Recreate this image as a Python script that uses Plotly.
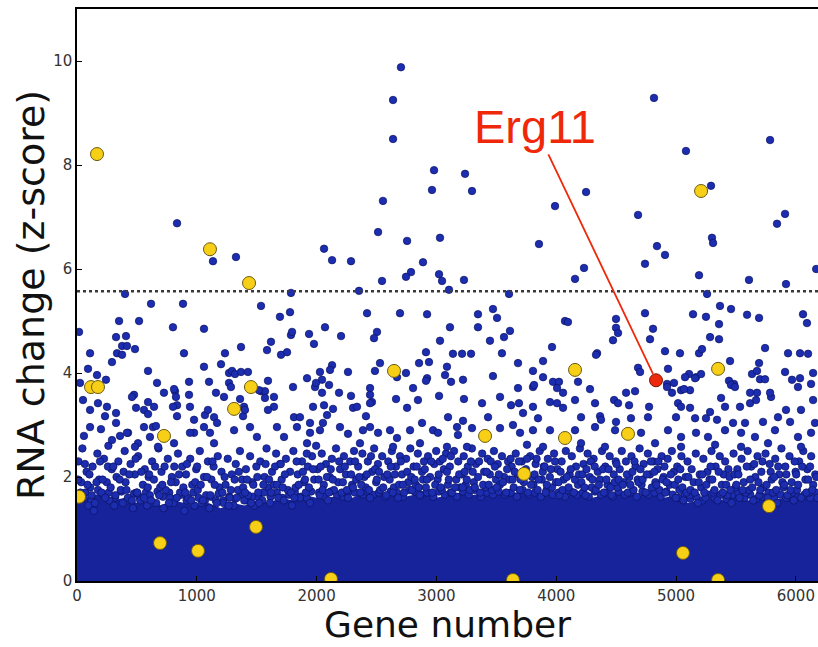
import plotly.graph_objects as go

# ---- data -------------------------------------------------------------
# upper edge of the saturated point cloud (genes every 100, z-score)
cloud_gene = list(range(0, 6300, 100))
cloud_top = [1.65, 1.6, 1.7, 1.55, 1.6, 1.5, 1.55, 1.45, 1.55, 1.5, 1.45, 1.5, 1.4, 1.5, 1.45, 1.55,
             1.5, 1.6, 1.55, 1.65, 1.6, 1.6, 1.65, 1.6, 1.7, 1.65, 1.7, 1.6, 1.65, 1.7, 1.6, 1.65,
             1.7, 1.65, 1.7, 1.65, 1.7, 1.7, 1.65, 1.7, 1.6, 1.65, 1.7, 1.6, 1.65, 1.7, 1.7, 1.65,
             1.7, 1.6, 1.65, 1.5, 1.55, 1.6, 1.55, 1.65, 1.55, 1.6, 1.55, 1.6, 1.65, 1.6, 1.55]

# genes sitting on the rim of the saturated cloud (gene, z)
rim_genes = [
    (20,1.6),(70,1.7),(120,1.55),(175,1.75),(220,1.65),(265,1.7),(318,1.6),(372,1.72),(420,1.55),(475,1.68),(520,1.62),(575,1.7),
    (620,1.5),(672,1.72),(717,1.62),(770,1.7),(818,1.58),(870,1.66),(915,1.55),(970,1.7),(1015,1.6),(1068,1.55),(1118,1.62),(1182,1.68),
    (1220,1.55),(1270,1.62),(1320,1.58),(1370,1.66),(1418,1.55),(1468,1.62),(1517,1.6),(1560,1.7),(1616,1.62),(1668,1.7),(1713,1.6),(1770,1.66),
    (1818,1.7),(1868,1.62),(1918,1.6),(1955,1.72),(2020,1.7),(2068,1.62),(2118,1.72),(2170,1.66),(2222,1.62),(2270,1.72),(2320,1.7),(2388,1.66),
    (2422,1.72),(2472,1.66),(2520,1.7),(2572,1.62),(2618,1.72),(2670,1.7),(2720,1.62),(2772,1.75),(2818,1.72),(2870,1.66),(2920,1.7),(2975,1.62),
    (3020,1.72),(3070,1.66),(3120,1.7),(3172,1.62),(3222,1.72),(3270,1.66),(3320,1.75),(3372,1.62),(3422,1.7),(3472,1.66),(3520,1.72),(3572,1.66),
    (3620,1.7),(3672,1.62),(3720,1.75),(3772,1.66),(3822,1.7),(3872,1.62),(3920,1.75),(3972,1.66),(4020,1.7),(4072,1.62),(4120,1.72),(4172,1.66),
    (4222,1.7),(4272,1.62),(4322,1.72),(4372,1.66),(4420,1.7),(4472,1.62),(4520,1.72),(4572,1.66),(4620,1.7),(4672,1.62),(4720,1.72),(4772,1.66),
    (4820,1.7),(4872,1.62),(4920,1.72),(4972,1.66),(5020,1.6),(5072,1.66),(5120,1.58),(5172,1.62),(5222,1.55),(5272,1.66),(5320,1.6),(5372,1.66),
    (5420,1.58),(5472,1.66),(5520,1.7),(5572,1.6),(5620,1.66),(5672,1.58),(5720,1.62),(5772,1.7),(5820,1.6),(5872,1.66),(5920,1.6),(5972,1.7),
    (6020,1.62),(6072,1.66),(6120,1.6),(6170,1.7),
]

# genes in the dense zone above the saturated cloud
dense_genes = [
    (12,2.3),(35,1.9),(58,1.6),(80,2.1),(95,1.45),(45,2.55),(110,1.8),(130,2.2),(150,1.5),(170,2.45),(185,1.95),(140,1.35),
    (205,1.7),(225,2.35),(248,1.9),(270,1.55),(290,2.15),(262,2.6),(310,1.45),(330,2.0),(345,2.3),(365,1.75),(382,1.5),(398,2.5),
    (405,1.9),(425,1.6),(447,2.25),(468,1.4),(483,2.05),(496,1.7),(510,2.4),(528,1.55),(550,1.85),(566,2.15),(585,1.45),(598,2.0),
    (608,1.65),(627,2.3),(642,1.95),(661,1.5),(680,2.55),(694,1.8),(705,2.1),(722,1.4),(740,1.75),(758,2.35),(776,1.6),(792,2.0),
    (805,1.5),(824,1.9),(843,2.45),(860,1.7),(878,2.2),(897,1.35),(910,2.05),(926,1.6),(945,2.35),(962,1.85),(980,1.45),(995,2.15),
    (1008,1.75),(1025,2.5),(1042,1.5),(1060,2.0),(1078,1.65),(1093,2.3),(1105,1.4),(1122,1.95),(1140,2.2),(1158,1.55),(1175,2.4),(1190,1.8),
    (1206,2.1),(1224,1.5),(1240,1.85),(1258,2.35),(1275,1.6),(1292,2.05),(1307,1.45),(1325,2.25),(1343,1.75),(1360,2.5),(1378,1.95),(1396,1.55),
    (1410,2.15),(1428,1.65),(1445,2.4),(1463,1.9),(1480,1.45),(1497,2.2),(1512,1.7),(1530,2.3),(1547,1.55),(1565,2.0),(1582,2.55),(1598,1.8),
    (1611,1.5),(1628,2.1),(1645,1.85),(1662,2.45),(1680,1.6),(1695,2.25),(1708,1.95),(1726,1.55),(1744,2.35),(1760,1.75),(1778,2.1),(1794,1.45),
    (1806,2.5),(1825,1.8),(1842,2.05),(1860,1.6),(1878,2.3),(1895,1.9),(1910,1.7),(1927,2.2),(1945,1.5),(1962,2.4),(1980,1.95),(1996,2.6),
    (2008,2.15),(2026,1.65),(2043,2.45),(2060,1.85),(2078,2.25),(2094,1.55),(2110,2.0),(2127,2.35),(2145,1.75),(2162,2.55),(2180,1.9),(2196,2.15),
    (2210,1.7),(2228,2.4),(2245,2.05),(2262,1.6),(2280,2.3),(2296,1.85),(2312,2.5),(2330,1.95),(2347,2.2),(2365,1.7),(2382,2.45),(2398,2.0),
    (2410,1.8),(2428,2.3),(2446,1.6),(2463,2.1),(2480,2.55),(2497,1.9),(2512,2.25),(2530,1.75),(2547,2.4),(2565,2.0),(2582,1.65),(2598,2.3),
    (2610,1.95),(2628,2.5),(2645,1.8),(2662,2.2),(2680,1.6),(2696,2.4),(2712,2.05),(2730,1.7),(2747,2.35),(2765,1.9),(2782,2.55),(2798,1.75),
    (2810,2.2),(2828,1.85),(2845,2.45),(2862,1.65),(2880,2.1),(2896,2.3),(2912,1.8),(2930,2.4),(2947,2.0),(2965,1.7),(2982,2.25),(2998,2.5),
    (3010,1.95),(3028,2.3),(3045,1.75),(3062,2.15),(3080,2.45),(3096,1.85),(3112,2.2),(3130,1.7),(3147,2.5),(3165,1.95),(3182,2.3),(3198,1.8),
    (3210,2.05),(3228,2.4),(3245,1.85),(3262,2.2),(3280,1.75),(3296,2.55),(3312,1.9),(3330,2.25),(3347,2.0),(3365,1.7),(3382,2.45),(3398,2.1),
    (3410,1.8),(3428,2.35),(3446,2.05),(3463,1.75),(3480,2.5),(3497,1.95),(3512,2.25),(3530,1.85),(3547,2.4),(3565,2.0),(3582,1.7),(3598,2.3),
    (3610,1.95),(3628,2.2),(3645,1.8),(3662,2.45),(3680,2.05),(3696,1.75),(3712,2.3),(3730,1.9),(3747,2.15),(3765,1.7),(3782,2.4),(3798,2.0),
    (3810,1.85),(3828,2.25),(3845,1.75),(3862,2.5),(3880,1.95),(3896,2.2),(3912,1.7),(3930,2.35),(3947,2.0),(3965,1.8),(3982,2.45),(3998,1.9),
    (4010,2.15),(4028,1.65),(4045,2.3),(4062,1.95),(4080,2.5),(4096,1.75),(4112,2.05),(4130,2.4),(4147,1.7),(4165,2.2),(4182,1.85),(4198,2.55),
    (4210,1.9),(4228,2.25),(4245,1.65),(4262,2.45),(4280,2.0),(4296,1.8),(4312,2.35),(4330,1.75),(4347,2.1),(4365,1.95),(4382,2.5),(4398,1.7),
    (4410,2.2),(4428,1.85),(4446,2.4),(4463,1.65),(4480,2.05),(4497,2.3),(4512,1.8),(4530,2.15),(4547,2.5),(4565,1.9),(4582,2.3),(4598,1.7),
    (4610,2.0),(4628,2.4),(4645,1.75),(4662,2.2),(4680,1.95),(4696,2.55),(4712,1.85),(4730,2.25),(4747,1.7),(4765,2.45),(4782,2.05),(4798,1.8),
    (4810,2.3),(4828,1.9),(4845,2.15),(4862,1.75),(4880,2.4),(4896,2.0),(4912,1.7),(4930,2.35),(4947,1.85),(4965,2.5),(4982,2.1),(4998,1.6),
    (5010,2.2),(5028,1.75),(5045,2.4),(5062,1.55),(5080,2.0),(5096,2.3),(5112,1.65),(5130,2.15),(5147,1.9),(5165,2.45),(5182,1.5),(5198,2.05),
    (5210,1.8),(5228,2.35),(5245,1.6),(5262,2.1),(5280,1.95),(5296,2.5),(5312,1.7),(5330,2.2),(5347,1.55),(5365,2.4),(5382,1.85),(5398,2.05),
    (5410,2.3),(5428,1.65),(5446,2.0),(5463,1.5),(5480,2.45),(5497,1.8),(5512,2.15),(5530,1.6),(5547,2.35),(5565,1.9),(5582,1.7),(5598,2.5),
    (5610,1.75),(5628,2.2),(5645,1.55),(5662,2.0),(5680,2.4),(5696,1.65),(5712,2.1),(5730,1.8),(5747,2.45),(5765,1.6),(5782,2.25),(5798,1.95),
    (5810,1.7),(5828,2.35),(5845,1.5),(5862,2.05),(5880,2.55),(5896,1.8),(5912,2.2),(5930,1.65),(5947,2.4),(5965,1.9),(5982,1.55),(5998,2.1),
    (6010,1.75),(6028,2.3),(6045,1.6),(6062,2.5),(6080,1.95),(6096,2.15),(6110,1.7),(6128,2.4),(6145,1.85),(6162,2.05),(6180,1.6),
]

# further genes packed just above the saturated cloud
packed_genes = [
    (8,1.95),(28,1.7),(66,2.25),(88,1.85),(104,2.05),(122,1.65),(163,1.9),(192,2.3),(214,1.95),(236,1.6),(258,2.2),(281,1.8),
    (303,2.2),(321,1.65),(356,1.95),(389,2.1),(413,1.75),(436,2.05),(458,1.55),(489,2.35),(503,1.7),(537,2.1),(559,1.6),(591,1.8),
    (602,2.05),(618,1.55),(652,2.2),(686,1.65),(712,1.85),(731,2.2),(767,1.5),(785,1.9),(812,2.2),(833,1.6),(852,2.05),(888,1.8),
    (903,1.7),(918,2.25),(953,1.55),(987,1.9),(1003,2.2),(1033,1.85),(1051,1.55),(1085,2.0),(1113,1.65),(1131,2.3),(1149,1.85),(1167,1.5),
    (1213,1.7),(1232,2.0),(1266,1.45),(1284,1.75),(1316,1.95),(1334,1.6),(1351,2.1),(1387,1.8),(1402,1.7),(1419,1.95),(1454,1.5),(1472,1.85),
    (1505,2.0),(1521,1.5),(1556,1.85),(1574,2.25),(1603,1.95),(1620,1.7),(1653,2.2),(1671,1.85),(1701,2.25),(1717,1.8),(1735,2.05),(1786,1.7),
    (1815,1.6),(1833,2.3),(1851,1.85),(1886,2.1),(1903,1.95),(1918,2.45),(1936,1.8),(1971,2.15),(2017,1.95),(2034,2.2),(2051,1.75),(2086,2.0),
    (2102,1.7),(2118,2.15),(2136,1.95),(2188,2.3),(2219,1.9),(2236,2.2),(2253,1.75),(2288,2.05),(2304,1.8),(2321,2.3),(2356,2.0),(2373,1.85),
    (2419,2.05),(2437,1.75),(2454,2.4),(2488,2.15),(2503,1.95),(2521,2.1),(2556,1.8),(2590,2.05),(2619,2.2),(2636,1.7),(2653,2.05),(2688,1.85),
    (2703,2.3),(2721,1.85),(2756,2.1),(2790,2.0),(2819,1.95),(2836,2.2),(2853,1.8),(2888,1.95),(2903,2.15),(2921,1.95),(2956,2.3),(2990,1.85),
    (3019,2.05),(3036,1.8),(3053,2.35),(3088,2.1),(3103,1.95),(3121,2.4),(3156,1.8),(3190,2.05),(3219,1.8),(3236,2.1),(3253,1.95),(3288,2.3),
    (3303,2.1),(3321,1.8),(3356,2.3),(3390,1.85),(3419,2.1),(3437,1.85),(3454,2.3),(3488,2.2),(3503,1.8),(3521,2.05),(3556,1.9),(3590,2.15),
    (3619,2.35),(3636,1.95),(3653,2.1),(3688,2.3),(3703,1.95),(3721,2.1),(3756,2.35),(3790,1.85),(3819,2.05),(3836,2.35),(3853,1.95),(3888,2.1),
    (3903,2.2),(3921,1.85),(3956,2.15),(3990,2.3),(4019,1.9),(4036,2.1),(4053,1.75),(4088,2.0),(4103,1.8),(4121,2.15),(4156,1.95),(4190,2.05),
    (4219,2.05),(4236,1.8),(4253,2.15),(4288,2.3),(4303,1.95),(4321,2.2),(4356,1.85),(4390,2.15),(4419,1.95),(4437,2.15),(4454,1.8),(4488,1.9),
    (4503,2.25),(4521,1.95),(4556,1.85),(4590,2.05),(4619,1.85),(4636,2.1),(4653,2.3),(4688,1.9),(4703,2.15),(4721,1.95),(4756,2.05),(4790,2.3),
    (4819,2.1),(4836,1.85),(4853,2.3),(4888,1.95),(4903,2.2),(4921,1.9),(4956,2.05),(4990,1.85),(5019,1.95),(5036,2.15),(5053,1.8),(5088,1.7),
    (5103,2.0),(5121,1.75),(5156,1.7),(5190,1.9),(5219,2.05),(5236,1.7),(5253,1.85),(5288,2.2),(5303,1.95),(5321,1.75),(5356,2.1),(5390,1.7),
    (5419,1.85),(5437,2.15),(5454,1.75),(5488,2.05),(5503,1.85),(5521,2.05),(5556,1.75),(5590,2.2),(5619,1.95),(5636,1.8),(5653,2.25),(5688,1.9),
    (5703,1.75),(5721,2.3),(5756,1.85),(5790,2.1),(5819,2.0),(5836,1.75),(5853,2.2),(5888,1.9),(5903,1.85),(5921,2.05),(5956,1.75),(5990,2.3),
    (6003,2.05),(6019,1.85),(6053,2.2),(6088,1.7),(6103,1.95),(6119,2.2),(6137,1.75),(6171,2.0),
]

# genes between z ~2.5 and ~3.5
shoulder_genes = [
    (50,3.48),(175,3.42),(250,3.35),(109,3.29),(234,3.17),(326,3.23),(326,3.04),(58,2.79),(109,2.96),(200,2.92),(292,2.71),(359,2.79),
    (426,2.85),(493,3.33),(593,3.44),(559,3.29),(643,3.35),(593,3.21),(835,3.38),(801,3.35),(835,3.17),(634,2.96),(559,2.96),(659,2.98),
    (417,2.85),(509,2.65),(484,2.58),(609,2.77),(676,2.58),(810,2.65),(943,3.35),(977,3.1),(977,2.85),(943,2.85),(1068,3.19),(1093,3.29),
    (1144,3.15),(1169,3.04),(1110,2.85),(1060,2.96),(1144,2.65),(1361,3.5),(1394,3.35),(1386,3.17),(1402,3.29),(1644,3.35),(1594,3.29),
    (1311,2.9),(1444,2.96),(1502,2.77),(1669,2.96),(1728,2.77),(1970,3.35),(2062,3.38),(1811,3.15),(1861,3.15),(1945,3.04),(1836,2.96),
    (1945,2.85),(2028,2.9),(1920,2.65),(2462,3.44),(2663,3.5),(2755,3.33),(2846,3.48),(3230,3.5),(3381,3.42),(3623,3.38),(3689,3.42),
    (3806,3.35),(3948,3.44),(4007,3.42),(4057,3.33),(2304,3.33),(2337,3.35),(2446,3.42),(2412,3.17),(2137,3.31),(2087,3.19),(3097,3.15),
    (3222,3.08),(3431,3.15),(3723,3.23),(3848,3.13),(2053,3.04),(2195,2.96),(2262,2.83),(2387,2.9),(2446,2.96),(2513,2.85),(2613,2.9),
    (2671,2.75),(2780,2.9),(2880,3.04),(2972,2.9),(3013,2.85),(3172,2.96),(3180,2.81),(3297,2.94),(3531,2.94),(3639,3.0),(3698,2.85),
    (3806,2.9),(3948,2.9),(2362,2.65),(2638,2.58),(2863,2.65),(3088,2.58),(3255,2.58),(3756,2.62),(3890,2.58),(4157,3.48),(4324,3.42),
    (4483,3.48),(4516,3.42),(4608,3.38),(4775,3.35),(5017,3.42),(5042,3.35),(5117,3.33),(5284,3.25),(5409,3.35),(5534,3.35),(5618,3.42),
    (5918,3.29),(6043,3.29),(4207,3.15),(4366,3.17),(4374,3.1),(4499,3.06),(4624,3.13),(4766,3.15),(5000,3.15),(5159,3.13),(5250,3.13),
    (5342,3.1),(5476,3.04),(5576,3.04),(5726,3.06),(5851,3.15),(5952,3.06),(6160,3.04),(4157,2.9),(4324,2.96),(4491,2.9),(4708,2.85),
    (4933,2.9),(5042,2.77),(5167,2.85),(5267,2.77),(5409,2.9),(5543,2.85),(5659,2.77),(5826,2.9),(6018,2.77),(6127,2.85),(4207,2.65),
    (4407,2.58),(4825,2.65),(5042,2.58),(5326,2.62),(5543,2.58),(5768,2.65),(6043,2.58),(5376,3.52),(5668,3.48),(5793,3.54),(6144,3.48),
    (3531,3.54),(2187,3.62),
]

# genes between z ~3.5 and the threshold
middle_genes = [
    (618,5.33),(885,5.33),(1536,5.29),(1694,5.08),(1778,5.17),(351,5.0),(518,5.0),(17,4.79),(801,4.88),(1060,4.85),(326,4.69),(409,4.71),
    (376,4.52),(417,4.52),(484,4.46),(334,4.38),(376,4.35),(109,4.38),(893,4.38),(1235,4.38),(1369,4.5),(1586,4.44),(1619,4.6),(1703,4.35),
    (1786,4.73),(1795,4.79),(1753,4.4),(292,4.21),(593,4.04),(1060,4.12),(1202,4.17),(1269,4.0),(1294,4.04),(1319,3.98),(1369,4.02),
    (1427,4.02),(92,4.08),(167,3.96),(242,3.87),(25,3.81),(668,3.81),(935,3.83),(1102,3.83),(1269,3.81),(1285,3.73),(1594,3.85),(1536,3.65),
    (1569,3.65),(1803,3.73),(726,3.62),(818,3.65),(1160,3.62),(935,3.58),(476,3.58),(2421,5.15),(2696,5.15),(2922,5.13),(3347,5.13),
    (3472,5.23),(3506,5.06),(3347,4.88),(3113,4.88),(2070,4.88),(1937,4.75),(2204,4.71),(1978,4.56),(2504,4.79),(2479,4.67),(3030,4.62),
    (3447,4.62),(3564,4.69),(3614,4.81),(4073,5.0),(3965,4.5),(2913,4.4),(3138,4.37),(3214,4.37),(3289,4.37),(3547,4.38),(4341,4.38),
    (2129,4.15),(2529,4.19),(2855,4.19),(2938,4.21),(3088,4.12),(3681,4.19),(3890,4.23),(2112,4.06),(2262,4.02),(2487,4.04),(2746,4.0),
    (5367,5.29),(5459,5.23),(5142,5.13),(5250,5.08),(5593,5.12),(5693,5.06),(6060,5.13),(6093,4.96),(4741,5.15),(4499,5.04),(4499,4.87),
    (4516,4.77),(4474,4.63),(4808,4.85),(4783,4.65),(5359,4.94),(5284,4.69),(5359,4.65),(4332,4.35),(4908,4.42),(5033,4.38),(5192,4.38),
    (5217,4.46),(5743,4.48),(5935,4.38),(6035,4.38),(6102,4.37),(5451,4.23),(5693,4.19),(4683,4.1),(4700,4.02),(4933,4.08),(5910,4.02),
    (6144,4.0),(5109,3.98),(5167,3.92),(5209,3.98),(5634,3.98),(5676,4.04),(5701,3.88),(5743,3.88),(5968,3.87),(6035,3.9),(6127,3.79),
    (4925,3.79),(4983,3.81),(5075,3.92),(5442,3.85),(5484,3.79),(4583,3.62),(4658,3.65),(4282,3.69),(4966,3.62),(5042,3.67),(5117,3.67),
    (5676,3.62),(5785,3.62),(2028,4.02),(3806,4.04),(3890,3.92),(3973,3.83),(4023,3.83),(4007,3.71),(4057,3.62),(2922,3.9),(3072,3.96),
    (3122,3.83),(3222,3.87),(3472,3.94),(3681,3.71),(3806,3.73),(2446,3.71),(2805,3.71),(2104,3.77),(2287,3.56),(2446,3.58),(3022,3.56),
    (1920,3.9),(1987,3.73),(2045,3.87),(2045,3.62),(810,3.69),(826,3.54),(1227,3.54),(1519,3.67),(1569,3.52),(1644,3.54),(459,3.54),
    (5159,3.9),(4925,3.73),(5067,3.69),(5459,3.77),(5492,3.73),(5618,3.62),(6018,3.73),(1995,3.81),(2671,3.92),(2913,3.85),(3815,3.77),
    (4182,3.83),(4098,4.98),
]

# genes above the threshold
outlier_genes = [
    (2704,9.88),(2638,9.25),(2638,8.5),(2980,7.9),(3239,7.83),(2963,7.52),(3297,7.5),(2554,7.31),(3990,7.21),(4249,7.48),(4816,9.29),
    (5083,8.27),(5785,8.48),(5292,7.6),(4683,7.04),(5910,7.06),(2513,6.71),(2062,6.39),(2129,6.17),(2287,6.15),(2755,6.54),(3030,6.6),
    (3856,6.48),(2888,6.13),(2788,5.94),(2746,5.85),(3022,5.9),(3047,5.77),(2546,5.77),(3230,5.79),(4232,6.02),(4157,5.81),(2354,5.58),
    (3105,5.6),(3606,5.52),(5843,6.87),(5300,6.6),(5309,6.5),(4841,6.44),(4908,6.27),(4741,6.1),(5192,5.88),(5609,5.79),(5918,5.71),
    (5259,5.52),(835,6.88),(1327,6.23),(1135,6.15),(401,5.52),(1786,5.54),(6170,6.0),
]

# highlighted genes (yellow) and Erg11
marked_genes = [
    (167,8.21),(1110,6.38),(1436,5.73),(117,3.73),(175,3.73),(1452,3.73),(1311,3.31),(726,2.79),(17,1.62),(693,0.73),(1010,0.58),
    (1494,1.04),(2646,4.04),(2120,0.04),(3406,2.79),(4073,2.75),(3731,2.06),(3639,0.02),(4157,4.06),(4599,2.83),(5058,0.54),
    (5351,0.02),(5776,1.44),(5351,4.08),(5209,7.5),
]
erg11_gene, erg11_z = 4833, 3.86
threshold_z = 5.57

x_ticks = [0, 1000, 2000, 3000, 4000, 5000, 6000]
y_ticks = [0, 2, 4, 6, 8, 10]

# ---- figure -----------------------------------------------------------
BLUE = "#1c2db0"
BLUE_EDGE = "#0c1262"
FONT = "DejaVu Sans"

fig = go.Figure()

fig.add_trace(go.Scatter(
    x=cloud_gene, y=cloud_top, mode="lines", fill="tozeroy",
    fillcolor="#16239a", line=dict(width=0, color="#16239a"), hoverinfo="skip"))

for group in (rim_genes, dense_genes, packed_genes, shoulder_genes, middle_genes, outlier_genes):
    fig.add_trace(go.Scatter(
        x=[g for g, _ in group], y=[z for _, z in group], mode="markers",
        marker=dict(size=7.5, color=BLUE, line=dict(width=0.7, color=BLUE_EDGE)),
        hoverinfo="skip"))

fig.add_trace(go.Scatter(
    x=[g for g, _ in marked_genes], y=[z for _, z in marked_genes], mode="markers",
    marker=dict(size=13, color="#f7cf16", line=dict(width=1, color="#6b5a12")),
    hoverinfo="skip"))

fig.add_trace(go.Scatter(
    x=[erg11_gene], y=[erg11_z], mode="markers",
    marker=dict(size=13, color="#ee2a0e", line=dict(width=1, color="#7a1a0a")),
    hoverinfo="skip"))

fig.add_shape(type="line", xref="paper", x0=0, x1=1, yref="y", y0=threshold_z, y1=threshold_z,
              line=dict(color="#3a3a3a", width=2.5, dash="3px,3px"))

fig.add_annotation(
    x=erg11_gene, y=erg11_z, xref="x", yref="y", text="Erg11",
    showarrow=True, arrowhead=0, arrowwidth=1.8, arrowcolor="#f0280a",
    ax=-121, ay=-254, standoff=7,
    font=dict(family="Liberation Sans", size=47, color="#f0280a"))

fig.add_annotation(
    text="Gene number", xref="paper", yref="paper", x=0.5, y=-0.0752,
    xanchor="center", yanchor="middle", showarrow=False,
    font=dict(family=FONT, size=36, color="#111111"))
fig.add_annotation(
    text="RNA change (z-score)", xref="paper", yref="paper", x=-0.062, y=0.5,
    xanchor="center", yanchor="middle", textangle=-90, showarrow=False,
    font=dict(family=FONT, size=38, color="#111111"))

fig.update_xaxes(
    range=[0, 6185], tickvals=x_ticks, ticktext=[str(v) for v in x_ticks],
    showline=True, linecolor="black", linewidth=1.5, mirror=True,
    ticks="inside", ticklen=5, tickcolor="black", showgrid=False, zeroline=False,
    tickfont=dict(family=FONT, size=15, color="#333333"))
fig.update_yaxes(
    range=[0, 11], tickvals=y_ticks, ticktext=[str(v) for v in y_ticks],
    showline=True, linecolor="black", linewidth=1.5,
    ticks="inside", ticklen=5, tickcolor="black", showgrid=False, zeroline=False,
    tickfont=dict(family=FONT, size=15, color="#333333"))

fig.update_layout(
    width=818, height=647, margin=dict(l=77, r=0, t=9, b=66),
    plot_bgcolor="white", paper_bgcolor="white", showlegend=False, hovermode=False)

fig.write_html("out.html")
